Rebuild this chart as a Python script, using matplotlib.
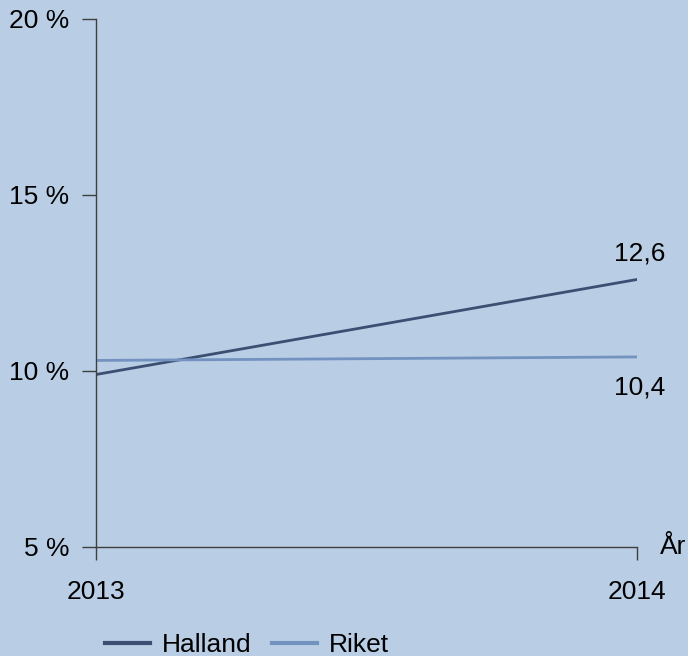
import matplotlib
matplotlib.use("Agg")
import matplotlib.pyplot as plt
from matplotlib.ticker import FuncFormatter

years = [2013, 2014]
halland = [9.9, 12.6]
riket = [10.3, 10.4]
y_ticks = [5, 10, 15, 20]

BG = "#b9cde5"
HALLAND_C = "#3b4f72"
RIKET_C = "#7392c0"
AXIS_C = "#3f3f3f"

plt.rcParams.update({
    "font.family": ["Liberation Sans", "DejaVu Sans"],
    "font.size": 19,
})

fig = plt.figure(figsize=(6.88, 6.56), dpi=100, facecolor=BG)
ax = fig.add_axes([96 / 688, 1 - 547 / 656, (637 - 96) / 688, (547 - 19) / 656])
ax.set_facecolor(BG)

ax.plot(years, halland, color=HALLAND_C, linewidth=2, label="Halland")
ax.plot(years, riket, color=RIKET_C, linewidth=2, label="Riket")

ax.set_xlim(years[0], years[-1])
ax.set_ylim(y_ticks[0], y_ticks[-1])
ax.set_xticks(years)
ax.set_yticks(y_ticks)
ax.yaxis.set_major_formatter(FuncFormatter(lambda v, _: f"{v:.0f} %"))

for s in ("top", "right"):
    ax.spines[s].set_visible(False)
for s in ("left", "bottom"):
    ax.spines[s].set_color(AXIS_C)
    ax.spines[s].set_linewidth(1)
ax.tick_params(axis="y", direction="out", length=10, width=1, color=AXIS_C, pad=9)
ax.tick_params(axis="x", direction="out", length=9, width=1, color=AXIS_C, pad=15)

# end labels
ax.annotate(f"{halland[-1]:.1f}".replace(".", ","), (years[-1], halland[-1]),
            xytext=(2, 19), textcoords="offset points", ha="center", va="center")
ax.annotate(f"{riket[-1]:.1f}".replace(".", ","), (years[-1], riket[-1]),
            xytext=(2, -22), textcoords="offset points", ha="center", va="center")

ax.text(1.0 + 23 / 541, 0.0, "År", transform=ax.transAxes, ha="left", va="center")

leg = fig.legend(loc="center left", bbox_to_anchor=(105 / 688, 1 - 645 / 656),
                 ncol=2, frameon=False, handlelength=1.7, handletextpad=0.45,
                 columnspacing=0.8, borderaxespad=0, borderpad=0)
for line in leg.get_lines():
    line.set_linewidth(3)

fig.savefig("out.png", dpi=100, facecolor=BG)
